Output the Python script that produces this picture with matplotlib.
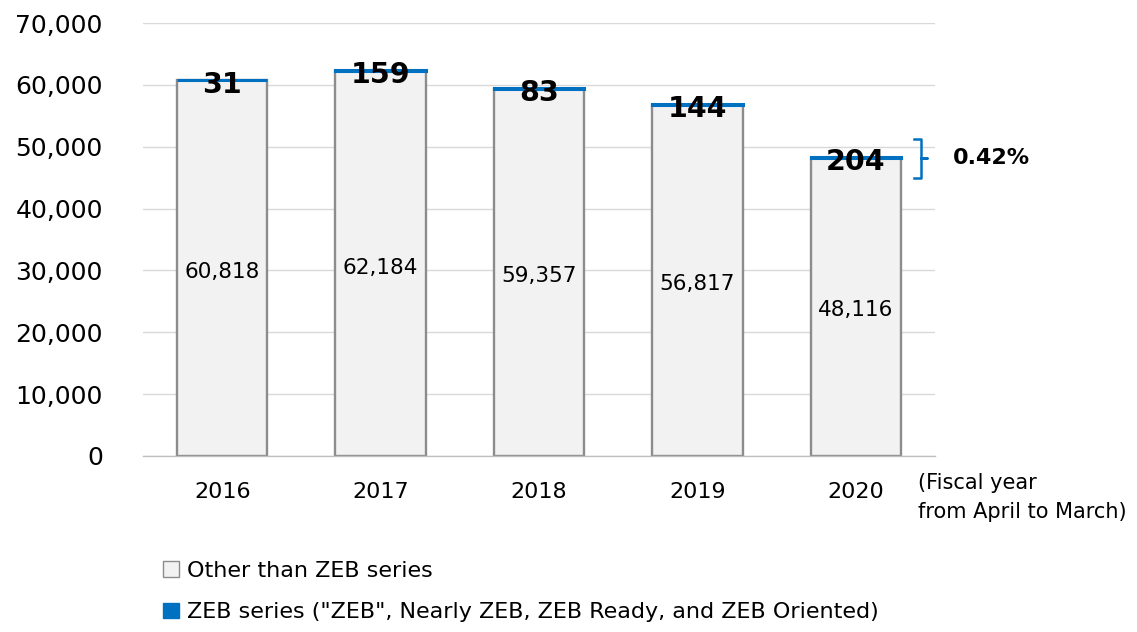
import matplotlib.pyplot as plt
from matplotlib.patches import Patch

# --- Data ---
years = ["2016", "2017", "2018", "2019", "2020"]
other_than_zeb = [60818, 62184, 59357, 56817, 48116]
zeb_series = [31, 159, 83, 144, 204]
share_label = "0.42%"

GRAY_FILL = "#f2f2f2"
GRAY_EDGE = "#8c8c8c"
BLUE = "#0070c0"

plt.rcParams['font.family'] = ['DejaVu Sans']

fig = plt.figure(figsize=(11.37, 6.32), dpi=100)
ax = fig.add_axes([0.1258, 0.2785, 0.6965, 0.685])

x = list(range(len(years)))
width = 0.57

ax.bar(x, other_than_zeb, width=width, color=GRAY_FILL, edgecolor=GRAY_EDGE,
       linewidth=1.7, zorder=2)
ax.bar(x, zeb_series, width=width, bottom=other_than_zeb, color=BLUE,
       edgecolor=BLUE, linewidth=2.2, zorder=3)

# value labels
for xi, o, z in zip(x, other_than_zeb, zeb_series):
    ax.text(xi, o * 0.49, f"{o:,}", ha='center', va='center', fontsize=15.5,
            color='black', zorder=4)
    ax.text(xi, o + z - 800, f"{z}", ha='center', va='center', fontsize=20.5,
            fontweight='bold', color='black', zorder=4)

# bracket for the last year
top_2020 = other_than_zeb[-1] + zeb_series[-1]
bx = 4.41
by_top = top_2020 + 2900
by_bot = top_2020 - 3300
by_mid = (by_top + by_bot) / 2
hook = 0.04
ax.plot([bx - hook, bx, bx, bx + hook, bx, bx, bx - hook],
        [by_top, by_top, by_mid, by_mid, by_mid, by_bot, by_bot],
        color=BLUE, linewidth=1.8, clip_on=False, zorder=4)
ax.text(4.61, by_mid, share_label, ha='left', va='center', fontsize=16,
        fontweight='bold', color='black', clip_on=False)

ax.set_xlim(-0.5, 4.5)
ax.set_ylim(0, 70000)
ax.set_yticks(range(0, 70001, 10000))
ax.set_yticklabels([f"{v:,}" for v in range(0, 70001, 10000)], fontsize=18)
ax.set_xticks(x)
ax.set_xticklabels(years, fontsize=16)
ax.tick_params(axis='both', length=0)
ax.tick_params(axis='y', pad=29)
ax.tick_params(axis='x', pad=19)

ax.grid(axis='y', color='#d9d9d9', linewidth=1.0, zorder=0)
ax.set_axisbelow(True)
for side in ['top', 'right', 'left']:
    ax.spines[side].set_visible(False)
ax.spines['bottom'].set_color('#bfbfbf')
ax.spines['bottom'].set_linewidth(1.0)

fig.text(918 / 1137, 1 - 473 / 632, "(Fiscal year\nfrom April to March)",
         ha='left', va='top', fontsize=15, linespacing=1.55)

handles = [Patch(facecolor=GRAY_FILL, edgecolor=GRAY_EDGE, linewidth=1.0),
           Patch(facecolor=BLUE, edgecolor=BLUE)]
labels = ["Other than ZEB series",
          "ZEB series (\"ZEB\", Nearly ZEB, ZEB Ready, and ZEB Oriented)"]
fig.legend(handles, labels, loc='upper left',
           bbox_to_anchor=(163 / 1137, 1 - 561 / 632), frameon=False,
           fontsize=16, handlelength=0.7, handleheight=0.7,
           handletextpad=0.4, labelspacing=0.95, borderpad=0, borderaxespad=0)

fig.savefig("out.png", dpi=100)
